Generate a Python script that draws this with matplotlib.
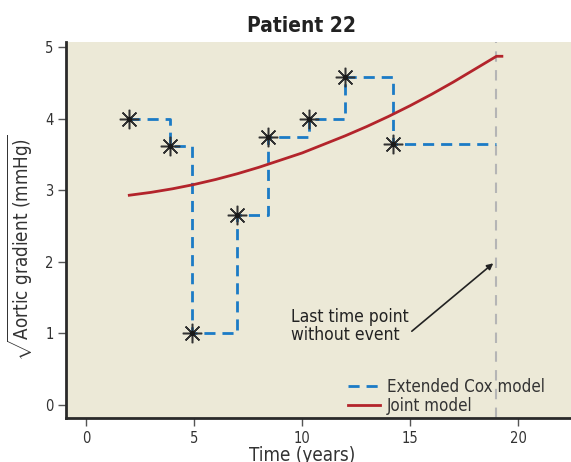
import matplotlib
matplotlib.use("Agg")
import matplotlib.pyplot as plt

plt.rcParams["font.family"] = ["DejaVu Sans"]
plt.rcParams["font.stretch"] = "condensed"
plt.rcParams["mathtext.fontset"] = "custom"
plt.rcParams["mathtext.rm"] = "DejaVu Sans:stretch=condensed"

# observed measurements (time in years, sqrt aortic gradient)
obs_time = [2.0, 3.9, 4.9, 7.0, 8.4, 10.3, 12.0, 14.2]
obs_value = [4.0, 3.62, 1.0, 2.65, 3.75, 4.0, 4.58, 3.65]
last_time = 19.0

# joint model fitted trajectory
joint_time = [2, 3, 4, 5, 6, 7, 8, 9, 10, 11, 12, 13, 14, 15, 16, 17, 18, 19, 19.25]
joint_value = [2.93, 2.97, 3.02, 3.08, 3.15, 3.23, 3.32, 3.42, 3.52, 3.64,
               3.76, 3.89, 4.03, 4.18, 4.34, 4.51, 4.69, 4.87, 4.87]

blue = "#1b7bc6"
red = "#b3242b"
bg = "#ece9d7"

fig = plt.figure(figsize=(5.71, 4.62), dpi=100)
ax = fig.add_axes([0.1156, 0.0952, 0.8844, 0.814])
ax.set_facecolor(bg)

ax.axvline(last_time, color="#b5b5b5", lw=1.5, ls=(0, (5, 4)), zorder=1)

step_x = obs_time + [last_time]
step_y = obs_value + [obs_value[-1]]
ax.plot(step_x, step_y, drawstyle="steps-post", color=blue, lw=2.0,
        ls=(0, (4, 2.5)), label="Extended Cox model", zorder=2)
ax.plot(joint_time, joint_value, color=red, lw=2.0, label="Joint model", zorder=3)
ax.plot(obs_time, obs_value, ls="none", marker=(8, 2, 0), ms=14, mew=1.1,
        color="#333333", zorder=4)
ax.plot(obs_time, obs_value, ls="none", marker="o", ms=3, color="#1a1a1a", zorder=5)

ax.annotate("Last time point\nwithout event", xy=(18.85, 1.98), xytext=(9.5, 1.1),
            fontsize=12.5, color="#222222", va="center", ha="left",
            linespacing=1.0,
            arrowprops=dict(arrowstyle="-|>", color="#222222", lw=1.2,
                            shrinkA=0, shrinkB=0, mutation_scale=9,
                            relpos=(1.0, 0.3)))

ax.set_xlim(-0.93, 22.45)
ax.set_ylim(-0.18, 5.07)
ax.set_xticks([0, 5, 10, 15, 20])
ax.set_yticks([0, 1, 2, 3, 4, 5])

for s in ["top", "right"]:
    ax.spines[s].set_visible(False)
for s in ["left", "bottom"]:
    ax.spines[s].set_linewidth(2)
    ax.spines[s].set_color("#2a2a2a")
ax.tick_params(axis="both", direction="out", length=6, width=1, color="#555555",
               labelsize=10.5, labelcolor="#333333", pad=3)

ax.set_xlabel("Time (years)", fontsize=13.5, color="#333333")
ax.xaxis.set_label_coords(0.467, -0.074, transform=ax.transAxes)
ax.xaxis.label.set_va("top")
ax.set_ylabel(r"$\sqrt{\mathrm{Aortic\ gradient\ (mmHg)}}$", fontsize=13.5,
              color="#333333")
ax.yaxis.set_label_coords(-0.091, 0.452, transform=ax.transAxes)
ax.yaxis.label.set_va("center")
ax.set_title("Patient 22", fontsize=15, fontweight="bold", color="#222222",
             x=0.467, pad=7)

leg = ax.legend(loc="lower right", bbox_to_anchor=(0.968, -0.02), frameon=False,
                fontsize=12.2, handlelength=1.9, handletextpad=0.4,
                labelspacing=0.1, borderaxespad=0.2)
for t in leg.get_texts():
    t.set_color("#333333")

fig.savefig("out.png", dpi=100, facecolor="white")
